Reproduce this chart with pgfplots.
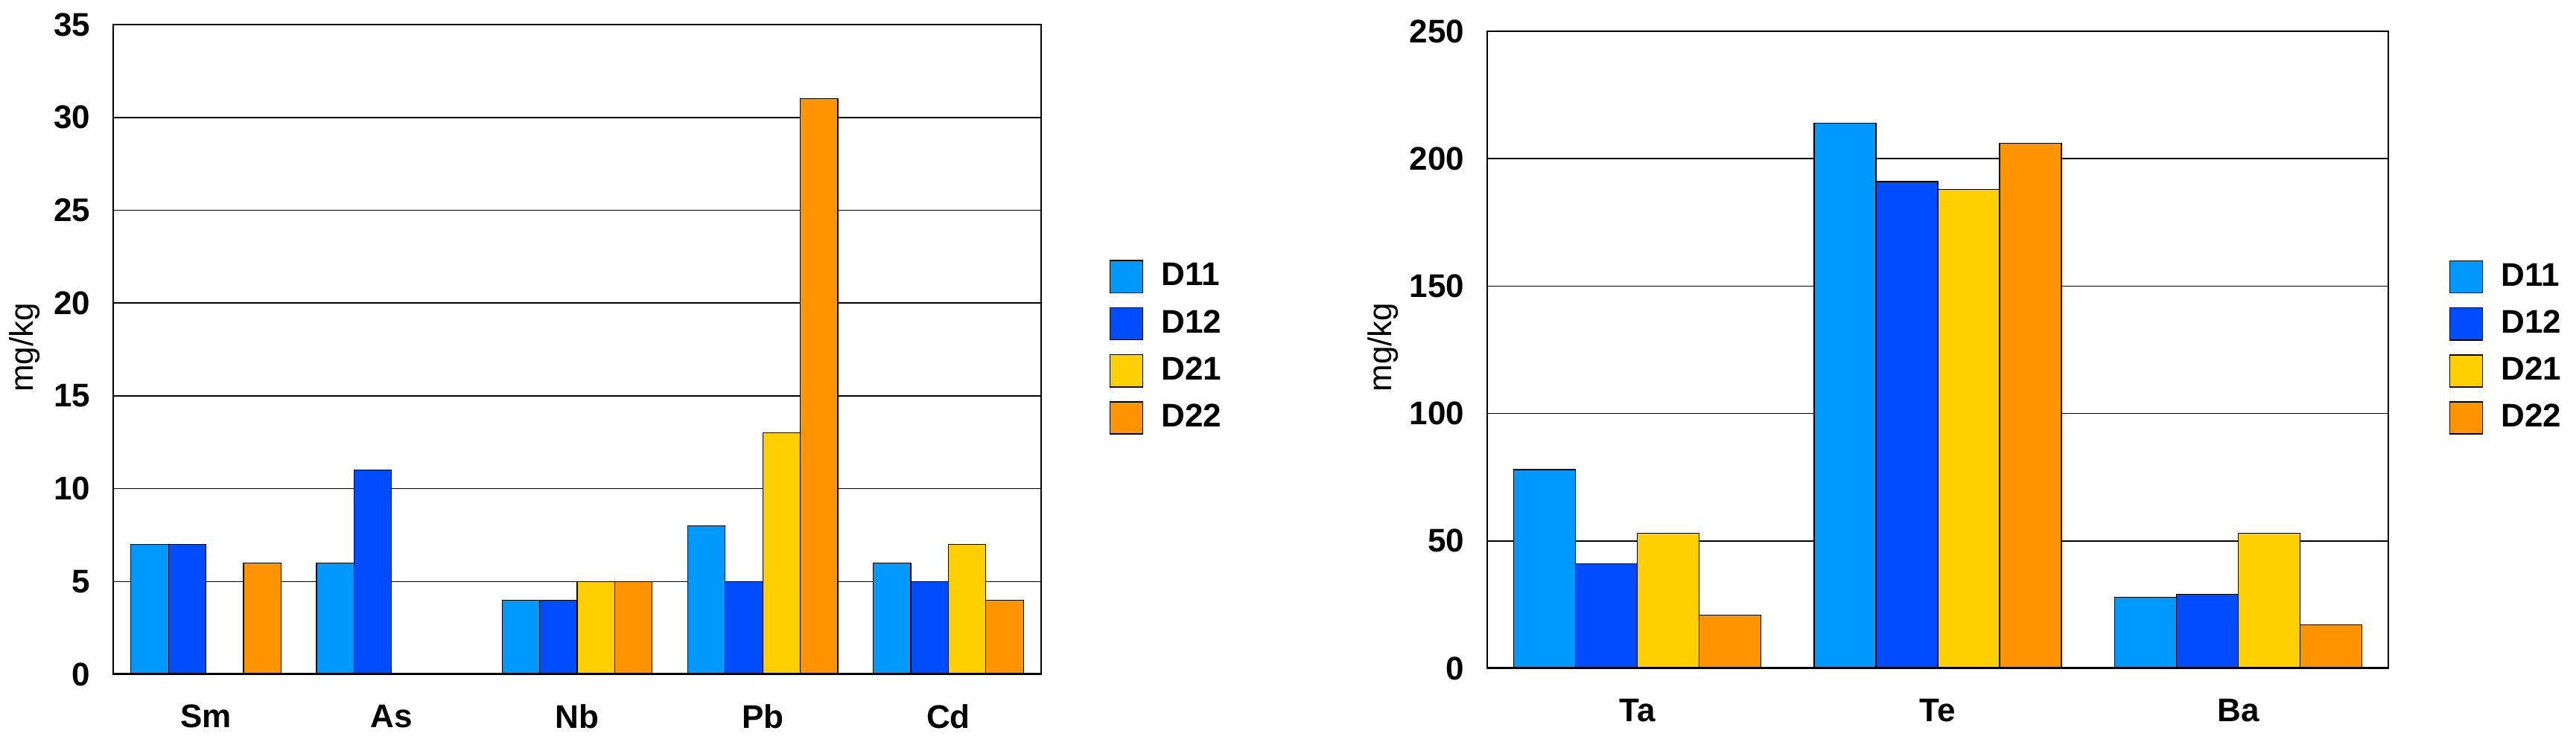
\documentclass[border=0pt]{standalone}
\usepackage{fontspec}
\setmainfont{Liberation Sans}
\usepackage{pgfplots}
\pgfplotsset{compat=1.18}
\definecolor{cA}{RGB}{0,153,255}
\definecolor{cB}{RGB}{0,76,255}
\definecolor{cC}{RGB}{255,207,0}
\definecolor{cD}{RGB}{255,148,0}
\pgfplotsset{
  mystyle/.style={
    scale only axis,
    anchor=south west,
    ybar=0pt,
    ymin=0,
    axis line style={black, line width=0.5pt},
    major tick length=0pt,
    ymajorgrids,
    grid style={black, line width=0.4pt},
    xtick=data,
    /pgf/number format/assume math mode=true,
    tick label style={font=\bfseries\fontsize{11}{13}\selectfont},
    yticklabel style={anchor=east, inner sep=0pt, xshift=-7.5pt},
    xticklabel style={anchor=north, inner sep=0pt, yshift=-10pt},
    ylabel={mg/kg},
    label style={font=\fontsize{11}{13}\selectfont},
    every axis plot/.append style={draw=black, line width=0.3pt},
    legend image code/.code={\draw[#1, draw=black, line width=0.4pt] (0pt,-5.4pt) rectangle (11pt,5.4pt);},
    legend style={draw=none, fill=none, anchor=west, inner sep=0pt,
      font=\bfseries\fontsize{11}{13}\selectfont,
      row sep=4.6pt, column sep=6pt,
      nodes={inner sep=0pt, anchor=west}},
    legend cell align=left,
  }
}
\begin{document}
\begin{tikzpicture}
\useasboundingbox (0,0) rectangle (864.75pt,250pt);
\begin{axis}[mystyle,
  at={(38pt,23.5pt)}, width=311.5pt, height=218.25pt,
  xmin=-0.5, xmax=4.5, ymax=35, ytick={0,5,...,35},
  bar width=12.6pt,
  xticklabels={Sm,As,Nb,Pb,Cd},
  ylabel style={at={(rel axis cs:-0.0955,0.503)}, anchor=center},
  legend style={at={(rel axis cs:1.073,0.5034)}},
]
\addplot[fill=cA] coordinates {(0,7) (1,6) (2,4) (3,8) (4,6)};
\addplot[fill=cB] coordinates {(0,7) (1,11) (2,4) (3,5) (4,5)};
\addplot[fill=cC] coordinates {(0,0) (1,0) (2,5) (3,13) (4,7)};
\addplot[fill=cD] coordinates {(0,6) (1,0) (2,5) (3,31) (4,4)};
\legend{D11,D12,D21,D22}
\draw[black, line width=0.8pt] (rel axis cs:0,0) -- (rel axis cs:1,0);
\end{axis}
\begin{axis}[mystyle,
  at={(499.25pt,25.5pt)}, width=302.5pt, height=214pt,
  xmin=-0.5, xmax=2.5, ymax=250, ytick={0,50,...,250},
  bar width=20.75pt,
  xticklabels={Ta,Te,Ba},
  ylabel style={at={(rel axis cs:-0.1157,0.504)}, anchor=center},
  legend style={at={(rel axis cs:1.0669,0.5038)}},
]
\addplot[fill=cA] coordinates {(0,78) (1,214) (2,28)};
\addplot[fill=cB] coordinates {(0,41) (1,191) (2,29)};
\addplot[fill=cC] coordinates {(0,53) (1,188) (2,53)};
\addplot[fill=cD] coordinates {(0,21) (1,206) (2,17)};
\legend{D11,D12,D21,D22}
\draw[black, line width=0.8pt] (rel axis cs:0,0) -- (rel axis cs:1,0);
\end{axis}
\end{tikzpicture}
\end{document}
